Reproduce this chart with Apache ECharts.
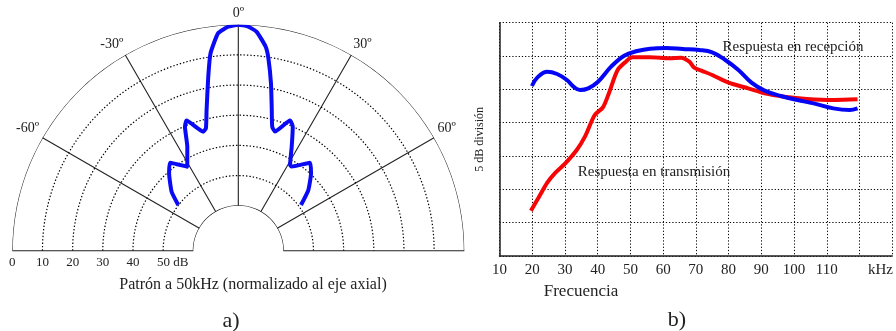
<!DOCTYPE html>
<html>
<head>
<meta charset="utf-8">
<script src="https://cdn.jsdelivr.net/npm/echarts@6/dist/echarts.min.js"></script>
<style>html,body{margin:0;padding:0;background:#fff;}#c{width:896px;height:331px;}</style>
</head>
<body>
<div id="c"></div>
<script>
// ---------- a) polar pattern ----------
const angleTickLabels = { '-60': '-60º', '-30': '-30º', '0': '0º', '30': '30º', '60': '60º' };
const radiusTickLabels = { 0: '0', 10: '10', 20: '20', 30: '30', 40: '40', 50: '50 dB' };
const ringSolid = [0, 60];            // outer edge and inner hole (dB)
const ringDotted = [10, 20, 30, 40, 50];
// pattern: angle (deg) and attenuation (dB)
const patternAngle = [-52.7, -48.5, -41.8, -37.8, -31.3, -26.1, -23.3, -21.7, -16.4, -14.8, -12.7, -9.8, -8.0, -5.3, -2.6, 0.0, 2.4, 4.8, 7.65, 8.9, 11.05, 13.06, 15.3, 17.1, 21.7, 23.7, 27.2, 31.1, 32.4, 39.2, 43.2, 49.1, 53.9];
const patternDb    = [49.9, 45.4, 40.5, 38.0, 42.3, 36.5, 30.2, 28.5, 33.8, 32.9, 27.1, 16.4, 8.8, 2.5, 0.6, 0.0, 0.5, 2.1, 6.7, 10.4, 18.4, 25.9, 32.3, 33.6, 28.5, 30.0, 36.2, 41.7, 41.9, 37.3, 39.7, 44.2, 49.2];

// ---------- b) frequency response ----------
const freqTickLabels = { 10: '10', 20: '20', 30: '30', 40: '40', 50: '50', 60: '60', 70: '70', 80: '80', 90: '90', 100: '100', 110: '110', 120: 'kHz' };
const recepFreq = [19.9, 21.6, 24.6, 27.6, 30.6, 32.6, 34.6, 37.1, 40.1, 44.1, 48.1, 52.1, 56, 61, 66, 71, 75, 79, 83, 87, 91, 96, 101, 106, 112, 117, 119.4];
const recepVal  = [25.5, 26.8, 27.65, 27.3, 26.4, 25.4, 24.9, 25.15, 26.15, 28.4, 30.05, 30.75, 31.1, 31.2, 31.05, 30.9, 30.55, 29.4, 27.9, 26.0, 24.8, 24.0, 23.4, 22.9, 22.15, 21.9, 22.15];
const transFreq = [19.6, 22.1, 24.6, 27.1, 30.1, 33.6, 36.1, 39.1, 41.6, 43.6, 46.1, 48.6, 50.6, 56, 62, 65.5, 68, 69.5, 72, 75, 80, 86, 91, 97, 104, 112, 119.4];
const transVal  = [6.8, 8.9, 11.0, 12.5, 13.9, 15.9, 17.9, 21.15, 22.3, 24.65, 27.9, 29.15, 29.8, 29.8, 29.65, 29.75, 29.15, 28.25, 27.75, 27.15, 26.0, 25.15, 24.4, 23.9, 23.55, 23.4, 23.5];

const FONT = '"Liberation Serif", "Times New Roman", serif';
const TXT = '#222';
const LINE = '#222';

const chart = echarts.init(document.getElementById('c'), null, { renderer: 'canvas' });

const cx = 238.3, cy = 250.7;
const ANG_MIN = -90, ANG_MAX = 90;
const arcSteps = [];
for (let a = ANG_MIN; a <= ANG_MAX; a += 1) arcSteps.push(a);

function ringSeries(db, dotted) {
  return {
    type: 'line', coordinateSystem: 'polar', polarIndex: 0,
    data: arcSteps.map(a => [db, a]),
    symbol: 'none', silent: true, z: 1,
    lineStyle: dotted ? { color: '#000', width: 1.2, type: [1.4, 2] } : { color: LINE, width: 1.1, type: 'solid' }
  };
}

const option = {
  animation: false,
  backgroundColor: '#fff',
  textStyle: { fontFamily: FONT, color: TXT },
  polar: [{ center: [cx, cy], radius: [45, 226] }],
  angleAxis: {
    polarIndex: 0, type: 'value', min: ANG_MIN, max: ANG_MAX, interval: 30,
    startAngle: 180, endAngle: 0, clockwise: true,
    axisLine: { show: false },
    axisTick: { show: false },
    splitLine: { show: true, lineStyle: { color: LINE, width: 1.1, type: 'solid' } },
    axisLabel: {
      show: true, margin: 4, fontFamily: FONT, fontSize: 14, color: TXT,
      formatter: v => angleTickLabels[String(v)] || ''
    }
  },
  radiusAxis: {
    polarIndex: 0, type: 'value', min: 0, max: 60, interval: 10, inverse: true,
    axisLine: { show: false }, axisTick: { show: false },
    splitLine: { show: false },
    axisLabel: {
      show: true, margin: 5, fontFamily: FONT, fontSize: 13, color: TXT, rotate: 0,
      formatter: v => {
        const s = radiusTickLabels[v];
        if (s === undefined) return '';
        if (v === 50) return '{p|' + s + '}';
        return s;
      },
      rich: { p: { fontFamily: FONT, fontSize: 13, color: TXT, padding: [0, 0, 0, 19] } }
    }
  },
  grid: { left: 499.5, top: 22.7, bottom: 75, right: -4.5, containLabel: false },
  xAxis: {
    type: 'value', min: 10, max: 130, interval: 10,
    axisLine: { show: true, lineStyle: { color: LINE, width: 1.5 } },
    axisTick: { show: false },
    splitLine: { show: true, lineStyle: { color: '#000', width: 1, type: [1.2, 2] } },
    axisLabel: {
      margin: 7, fontFamily: FONT, fontSize: 15, color: TXT,
      formatter: v => {
        const s = freqTickLabels[v];
        if (s === undefined) return '';
        if (v === 120) return '{k|' + s + '}';
        return s;
      },
      rich: { k: { fontFamily: FONT, fontSize: 15, color: TXT, padding: [0, 0, 0, 42] } }
    }
  },
  yAxis: {
    type: 'value', min: 0, max: 35, interval: 5,
    axisLine: { show: true, lineStyle: { color: LINE, width: 1.5 } },
    axisTick: { show: false }, axisLabel: { show: false },
    splitLine: { show: true, lineStyle: { color: '#000', width: 1, type: [1.2, 2] } },
    name: '5 dB división', nameLocation: 'middle', nameGap: 14, nameRotate: 90,
    nameTextStyle: { fontFamily: FONT, fontSize: 12, color: TXT }
  },
  series: [
    ...ringSolid.map(v => ringSeries(v, false)),
    ...ringDotted.map(v => ringSeries(v, true)),
    {
      name: 'Patrón', type: 'line', coordinateSystem: 'polar', polarIndex: 0,
      data: patternAngle.map((a, i) => [patternDb[i], a]),
      symbol: 'none', smooth: 0.15,
      lineStyle: { color: '#0a0af5', width: 4 }, z: 5
    },
    {
      name: 'Respuesta en recepción', type: 'line',
      data: recepFreq.map((f, i) => [f, recepVal[i]]),
      symbol: 'none', smooth: 0.4,
      lineStyle: { color: '#0505f5', width: 4 }, z: 5
    },
    {
      name: 'Respuesta en transmisión', type: 'line',
      data: transFreq.map((f, i) => [f, transVal[i]]),
      symbol: 'none', smooth: 0.3,
      lineStyle: { color: '#f50505', width: 4 }, z: 4
    }
  ],
  graphic: [
    { type: 'text', x: 253, y: 285, style: { text: 'Patrón a 50kHz (normalizado al eje axial)', font: '16px ' + FONT, fill: TXT, textAlign: 'center', textVerticalAlign: 'middle' } },
    { type: 'text', x: 231, y: 321, style: { text: 'a)', font: '22px ' + FONT, fill: TXT, textAlign: 'center', textVerticalAlign: 'middle' } },
    { type: 'text', x: 581, y: 292, style: { text: 'Frecuencia', font: '17px ' + FONT, fill: TXT, textAlign: 'center', textVerticalAlign: 'middle' } },
    { type: 'text', x: 677, y: 320, style: { text: 'b)', font: '22px ' + FONT, fill: TXT, textAlign: 'center', textVerticalAlign: 'middle' } },
    { type: 'text', x: 793, y: 47, z: 10, style: { text: 'Respuesta en recepción', font: '15px ' + FONT, fill: TXT, textAlign: 'center', textVerticalAlign: 'middle' } },
    { type: 'text', x: 654, y: 172, z: 10, style: { text: 'Respuesta en transmisión', font: '15px ' + FONT, fill: TXT, textAlign: 'center', textVerticalAlign: 'middle' } }
  ]
};
chart.setOption(option);
</script>
</body>
</html>
